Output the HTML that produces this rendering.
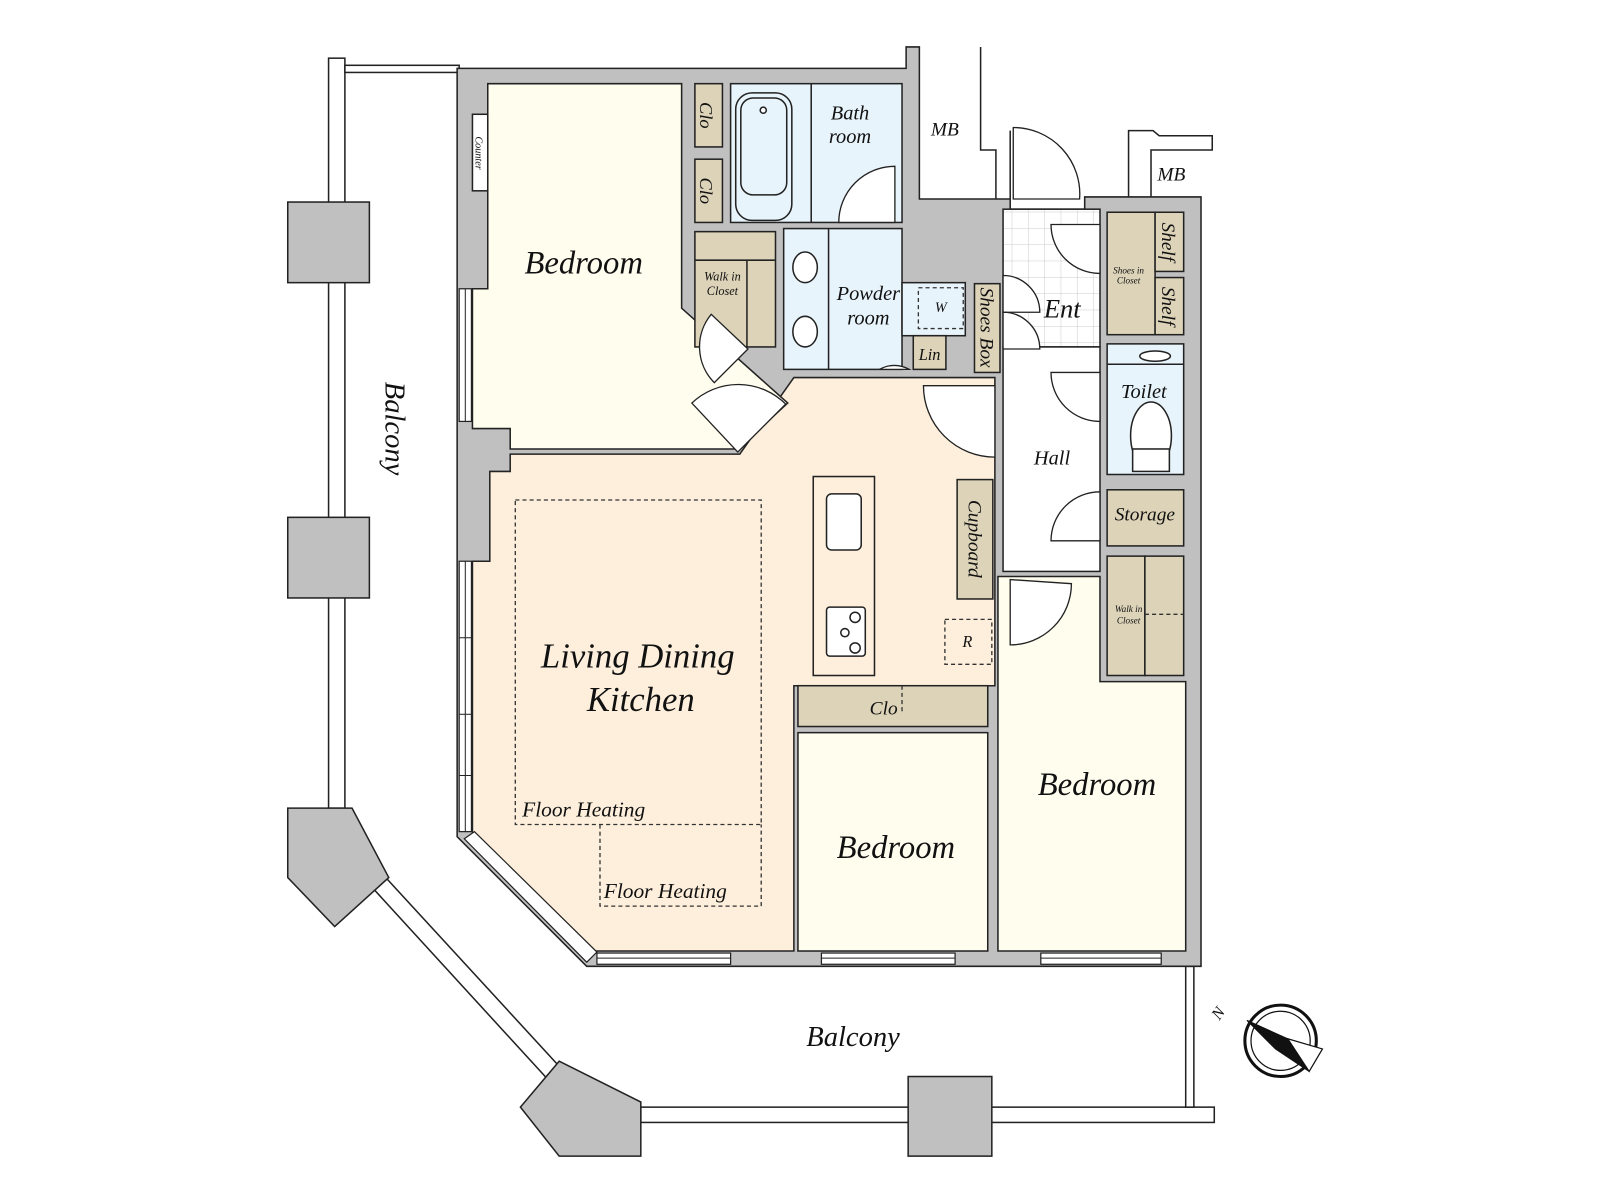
<!DOCTYPE html>
<html><head><meta charset="utf-8"><style>
html,body{margin:0;padding:0;background:#fff;}
svg{display:block}
text{font-family:"Liberation Serif",serif;font-style:italic;fill:#111}
</style></head><body>
<svg width="1600" height="1200" viewBox="0 0 1600 1200" xmlns="http://www.w3.org/2000/svg">
<defs>
<pattern id="tile" width="16" height="16" patternUnits="userSpaceOnUse"><rect width="16" height="16" fill="#fff"/><path d="M16 0V16M0 16H16" stroke="#ccc" stroke-width="1"/></pattern>
</defs>
<g transform="scale(1.0204)">
<g stroke="#222" stroke-width="1.5">
<rect x="322" y="57" width="16" height="735" fill="#fff"/>
<rect x="338" y="64" width="112" height="7" fill="#fff"/>
<rect x="282" y="198" width="80" height="79" fill="#c0c0c0"/>
<rect x="282" y="507" width="80" height="79" fill="#c0c0c0"/>
<polygon points="365,870 378,860 560,1058 548,1070" fill="#fff"/>
<polygon points="282,792 345,792 381,860 328,908 282,860" fill="#c0c0c0"/>
<rect x="628" y="1085" width="562" height="15" fill="#fff"/>
<rect x="1162" y="947" width="8" height="138" fill="#fff"/>
<polygon points="548,1040 628,1080 628,1133 548,1133 510,1085" fill="#c0c0c0"/>
<rect x="890" y="1055" width="82" height="78" fill="#c0c0c0"/>
<polygon points="448,67 888,67 888,46 901,46 901,195 990,195 990,205 1063,205 1063,193 1177,193 1177,947 575,947 448,820" fill="#c0c0c0"/>
</g>
<g stroke="#222" stroke-width="1.5" fill="none">
<polyline points="961,46 961,147 976,147 976,195"/>
<polyline points="990,195 990,128"/>
<polyline points="1106,193 1106,128 1130,128 1136,133 1188,133 1188,147 1128,147 1128,193"/>
</g>

<g stroke="#222" stroke-width="1.5">
<polygon points="463,820 463,550 480,550 480,462 500,462 500,445 725,445 778,370 975,370 975,672 778,672 778,932 582,932" fill="#fdefdc"/>
<polygon points="478,82 668,82 668,302 772,395 723,440 500,440 500,420 463,420 463,283 478,283" fill="#fffdee"/>
<rect x="463" y="112" width="15" height="75" fill="#fff"/>
<rect x="782" y="718" width="186" height="214" fill="#fffdee"/>
<polygon points="978,565 1078,565 1078,668 1162,668 1162,932 978,932" fill="#fffdee"/>
<rect x="716" y="82" width="168" height="136" fill="#e8f4fb"/>
<rect x="768" y="224" width="116" height="138" fill="#e8f4fb"/>
<rect x="884" y="277" width="62" height="52" fill="#e8f4fb"/>
<rect x="983" y="205" width="95" height="135" fill="url(#tile)"/>
<rect x="983" y="340" width="95" height="220" fill="#fff"/>
<rect x="1085" y="337" width="75" height="128" fill="#e8f4fb"/>
<g fill="#dcd3b8">
<rect x="681" y="82" width="27" height="62"/>
<rect x="681" y="156" width="27" height="62"/>
<rect x="681" y="227" width="79" height="113"/>
<rect x="895" y="329" width="32" height="33"/>
<rect x="955" y="278" width="25" height="87"/>
<rect x="1085" y="208" width="47" height="120"/>
<rect x="1132" y="208" width="28" height="58"/>
<rect x="1132" y="272" width="28" height="56"/>
<rect x="1085" y="480" width="75" height="55"/>
<rect x="1085" y="545" width="37" height="117"/>
<rect x="1122" y="545" width="38" height="117"/>
<rect x="938" y="470" width="35" height="117"/>
<rect x="782" y="672" width="186" height="40"/>
</g>
<line x1="681" y1="255" x2="760" y2="255"/>
<line x1="732" y1="255" x2="732" y2="340"/>
<rect x="797" y="467" width="60" height="195" fill="#fdefdc"/>
<rect x="810" y="484" width="34" height="55" rx="5" fill="#fff"/>
<rect x="810" y="595" width="38" height="48" rx="3" fill="#fff"/>
<circle cx="838" cy="605" r="5" fill="#fff"/><circle cx="828" cy="620" r="4" fill="#fff"/><circle cx="838" cy="635" r="5" fill="#fff"/>
<rect x="721" y="91" width="55" height="125" rx="16" fill="#e8f4fb"/>
<rect x="726" y="96" width="45" height="95" rx="12" fill="#e8f4fb"/>
<circle cx="748" cy="108" r="3" fill="#fff"/>
<line x1="795" y1="82" x2="795" y2="218"/>
<line x1="812" y1="224" x2="812" y2="362"/>
<ellipse cx="789" cy="262" rx="12" ry="15" fill="#fff"/>
<ellipse cx="789" cy="325" rx="12" ry="15" fill="#fff"/>
<line x1="1085" y1="357" x2="1160" y2="357"/>
<ellipse cx="1132" cy="349" rx="15" ry="5" fill="#fff"/>
<ellipse cx="1128" cy="427" rx="20" ry="33" fill="#fff"/>
<rect x="1110" y="440" width="36" height="22" fill="#fff"/>
</g>

<g stroke="#222" stroke-width="1.3" fill="#fff">
<path d="M877 218 V163 A55 55 0 0 0 822 218 Z"/>
<path d="M993 195 V125 A65 65 0 0 1 1058 195 Z"/>
<path d="M1078 220 H1030 A48 48 0 0 0 1078 268 Z"/>
<path d="M983 270 A36 36 0 0 1 1019 306 H983 Z"/>
<path d="M983 306 A36 36 0 0 1 1019 342 H983 Z"/>
<path d="M1078 365 H1030 A48 48 0 0 0 1078 413 Z"/>
<path d="M975 378 H905 A70 70 0 0 0 975 448 Z"/>
<path d="M1078 482 A48 48 0 0 0 1030 530 H1078 Z"/>
<path d="M990 568 V632 A60 60 0 0 0 1050 572 Z"/>
<path d="M891 362 A29 29 0 0 0 862 362 Z"/>
<path d="M733 342 L697 308 A50 50 0 0 0 700 375 Z"/>
<path d="M723 443 L678 395 A66 66 0 0 1 770 396 Z"/>
</g>

<g stroke="#333" stroke-width="1.3" fill="none" stroke-dasharray="4,3">
<rect x="505" y="490" width="241" height="318"/>
<polyline points="588,808 588,888 746,888 746,808"/>
<rect x="900" y="282" width="44" height="40"/>
<rect x="926" y="607" width="46" height="44"/>
<line x1="1122" y1="602" x2="1160" y2="602"/>
<line x1="884" y1="672" x2="884" y2="700"/>
</g>

<g stroke="#222" stroke-width="1.2" fill="#fff">
<rect x="450" y="283" width="12" height="130"/>
<rect x="450" y="550" width="12" height="265"/>
<rect x="585" y="934" width="131" height="11"/>
<rect x="805" y="934" width="131" height="11"/>
<rect x="1020" y="934" width="118" height="11"/>
<polygon points="455,822 465,815 585,933 575,943"/>
</g>
<g stroke="#222" stroke-width="1">
<line x1="456" y1="283" x2="456" y2="413"/><line x1="456" y1="550" x2="456" y2="815"/>
<line x1="585" y1="939" x2="716" y2="939"/><line x1="805" y1="939" x2="936" y2="939"/><line x1="1020" y1="939" x2="1138" y2="939"/>
<line x1="450" y1="625" x2="462" y2="625"/><line x1="450" y1="700" x2="462" y2="700"/><line x1="450" y1="760" x2="462" y2="760"/>
</g>

<g stroke="#111" fill="none">
<circle cx="1255" cy="1020" r="35" stroke-width="3"/>
<circle cx="1255" cy="1020" r="29" stroke-width="1.2"/>
<polygon points="1222,1000 1262,1018 1283,1050 1250,1028" fill="#111"/>
<polygon points="1262,1018 1296,1028 1283,1050" fill="#fff" stroke-width="1.2"/>
</g>

<text x="572" y="268" font-size="32" text-anchor="middle">Bedroom</text>
<text x="625" y="654" font-size="34" text-anchor="middle">Living Dining</text>
<text x="628" y="697" font-size="34" text-anchor="middle">Kitchen</text>
<text x="572" y="800" font-size="21" text-anchor="middle">Floor Heating</text>
<text x="652" y="880" font-size="21" text-anchor="middle">Floor Heating</text>
<text x="878" y="841" font-size="32" text-anchor="middle">Bedroom</text>
<text x="1075" y="779" font-size="32" text-anchor="middle">Bedroom</text>
<text x="836" y="1025" font-size="28" text-anchor="middle">Balcony</text>
<text x="833" y="117" font-size="20" text-anchor="middle">Bath</text>
<text x="833" y="140" font-size="20" text-anchor="middle">room</text>
<text x="926" y="133" font-size="19" text-anchor="middle">MB</text>
<text x="1148" y="177" font-size="19" text-anchor="middle">MB</text>
<text x="851" y="294" font-size="20" text-anchor="middle">Powder</text>
<text x="851" y="318" font-size="20" text-anchor="middle">room</text>
<text x="922" y="306" font-size="14" text-anchor="middle">W</text>
<text x="911" y="353" font-size="16" text-anchor="middle">Lin</text>
<text x="1041" y="311" font-size="26" text-anchor="middle">Ent</text>
<text x="1031" y="455" font-size="20" text-anchor="middle">Hall</text>
<text x="1121" y="390" font-size="20" text-anchor="middle">Toilet</text>
<text x="1122" y="510" font-size="19" text-anchor="middle">Storage</text>
<text x="708" y="275" font-size="12" text-anchor="middle">Walk in</text>
<text x="708" y="289" font-size="12" text-anchor="middle">Closet</text>
<text x="1106" y="268" font-size="9" text-anchor="middle">Shoes in</text>
<text x="1106" y="278" font-size="9" text-anchor="middle">Closet</text>
<text x="1106" y="600" font-size="9" text-anchor="middle">Walk in</text>
<text x="1106" y="611" font-size="9" text-anchor="middle">Closet</text>
<text x="866" y="700" font-size="19" text-anchor="middle">Clo</text>
<text x="948" y="634" font-size="16" text-anchor="middle">R</text>
<text transform="translate(686,113) rotate(90)" font-size="18" text-anchor="middle">Clo</text>
<text transform="translate(686,187) rotate(90)" font-size="18" text-anchor="middle">Clo</text>
<text transform="translate(961,321) rotate(90)" font-size="19" text-anchor="middle">Shoes Box</text>
<text transform="translate(1139,237) rotate(90)" font-size="19" text-anchor="middle">Shelf</text>
<text transform="translate(1139,300) rotate(90)" font-size="19" text-anchor="middle">Shelf</text>
<text transform="translate(949,528) rotate(90)" font-size="19" text-anchor="middle">Cupboard</text>
<text transform="translate(466,150) rotate(90)" font-size="10" text-anchor="middle">Counter</text>
<text transform="translate(378,420) rotate(90)" font-size="28" text-anchor="middle">Balcony</text>
<text transform="translate(1198,996) rotate(-55)" font-size="16" text-anchor="middle">N</text>
</g>
</svg>
</body></html>
